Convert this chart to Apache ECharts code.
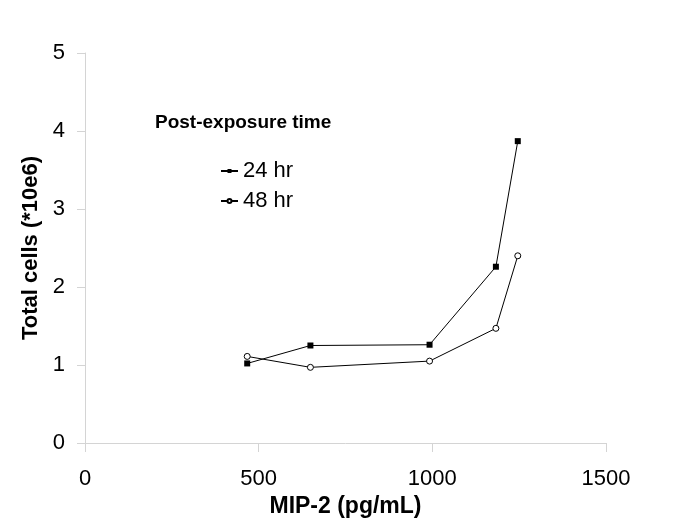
<!DOCTYPE html>
<html>
<head>
<meta charset="utf-8">
<script src="https://cdn.jsdelivr.net/npm/echarts@6/dist/echarts.min.js"></script>
<style>
html,body{margin:0;padding:0;background:#fff;}
#main{width:685px;height:529px;}
</style>
</head>
<body>
<div id="main"></div>
<script>
var xTicks = [0, 500, 1000, 1500];
var yTicks = [0, 1, 2, 3, 4, 5];
var seriesNames = ['24 hr', '48 hr'];
var mip24 = [467, 649, 992, 1183, 1246];
var cells24 = [1.02, 1.25, 1.26, 2.26, 3.87];
var mip48 = [467, 649, 992, 1183, 1246];
var cells48 = [1.11, 0.97, 1.05, 1.47, 2.40];
var legendTitle = 'Post-exposure time';
var xName = 'MIP-2 (pg/mL)';
var yName = 'Total cells (*10e6)';

function pairs(xs, ys){ return xs.map(function(x,i){ return [x, ys[i]]; }); }

var font = 'Liberation Sans, Arial, sans-serif';
var chart = echarts.init(document.getElementById('main'));
chart.setOption({
  backgroundColor: '#fff',
  animation: false,
  title: {
    text: legendTitle, left: 155, top: 113, padding: 0,
    textStyle: {fontFamily: font, fontSize: 19, fontWeight: 'bold', color: '#000'}
  },
  legend: {
    orient: 'vertical', left: 220, top: 160, itemGap: 8, padding: 0,
    itemWidth: 17, itemHeight: 5,
    textStyle: {fontFamily: font, fontSize: 22, color: '#000'},
    data: seriesNames
  },
  grid: {left: 85, right: 79, top: 53, bottom: 86, containLabel: false},
  xAxis: {
    type: 'value', min: xTicks[0], max: xTicks[xTicks.length-1], interval: 500,
    name: xName, nameLocation: 'middle', nameGap: 50,
    nameTextStyle: {fontFamily: font, fontSize: 23, fontWeight: 'bold', color: '#000'},
    axisLine: {show: true, lineStyle: {color: '#d4d4d4', width: 1}},
    axisTick: {show: true, length: 9, lineStyle: {color: '#d4d4d4'}},
    axisLabel: {fontFamily: font, fontSize: 22, color: '#000', margin: 25,
      formatter: function(v){ return String(v); }},
    splitLine: {show: false}
  },
  yAxis: {
    type: 'value', min: yTicks[0], max: yTicks[yTicks.length-1], interval: 1,
    name: yName, nameLocation: 'middle', nameGap: 39,
    nameTextStyle: {fontFamily: font, fontSize: 22, fontWeight: 'bold', color: '#000'},
    axisLine: {show: true, lineStyle: {color: '#d4d4d4', width: 1}},
    axisTick: {show: true, length: 8, lineStyle: {color: '#d4d4d4'}},
    axisLabel: {fontFamily: font, fontSize: 22, color: '#000', margin: 20},
    splitLine: {show: false}
  },
  series: [
    {
      name: seriesNames[0], type: 'line', data: pairs(mip24, cells24),
      symbol: 'rect', symbolSize: 6,
      lineStyle: {color: '#000', width: 1},
      itemStyle: {color: '#000', borderColor: '#000', borderWidth: 0}
    },
    {
      name: seriesNames[1], type: 'line', data: pairs(mip48, cells48),
      symbol: 'circle', symbolSize: 6, showAllSymbol: true,
      lineStyle: {color: '#000', width: 1},
      itemStyle: {color: '#fff', borderColor: '#000', borderWidth: 1}
    }
  ]
});
</script>
</body>
</html>
